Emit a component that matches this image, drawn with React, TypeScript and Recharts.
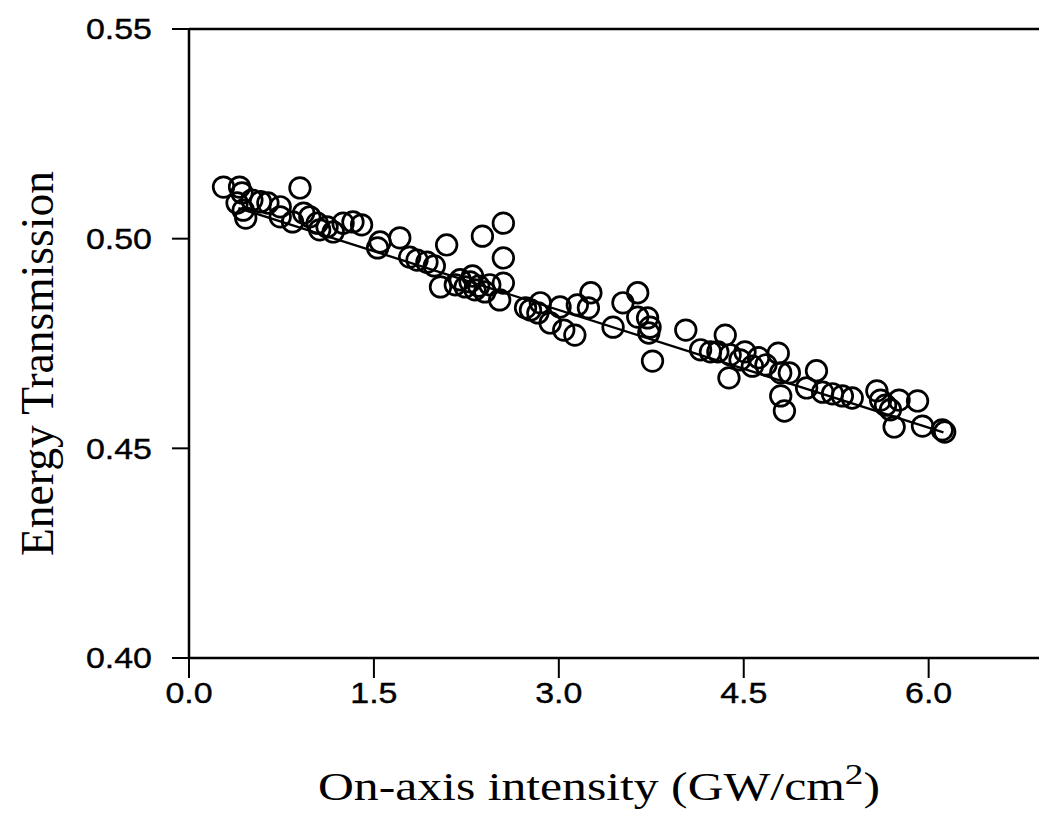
import React from "react";
import {
  ComposedChart,
  Scatter,
  XAxis,
  YAxis,
  ReferenceLine,
} from "recharts";

const intensity = [
  0.28, 0.41, 0.43, 0.39, 0.44, 0.46, 0.51, 0.58, 0.64, 0.74, 0.74, 0.9, 0.84, 0.93, 0.98,
  1.04, 1.06, 1.12, 1.17, 1.25, 1.33, 1.4, 1.53, 1.55, 1.71, 1.79, 1.85, 1.93, 1.99, 2.09,
  2.04, 2.16, 2.2, 2.24, 2.28, 2.3, 2.32, 2.35, 2.38, 2.4, 2.44, 2.55, 2.55, 2.55, 2.52,
  2.73, 2.77, 2.83, 2.85, 2.93, 3.01, 3.04, 3.13, 3.15, 3.24, 3.26, 3.44, 3.52, 3.64, 3.64,
  3.72, 3.74, 3.73, 3.76, 4.03, 4.15, 4.23, 4.29, 4.35, 4.38, 4.39, 4.47, 4.51, 4.57, 4.62,
  4.68, 4.78, 4.8, 4.87, 4.8, 4.83, 5.01, 5.09, 5.14, 5.22, 5.3, 5.38, 5.58, 5.61, 5.65,
  5.69, 5.76, 5.72, 5.91, 5.95, 6.11, 6.13,
];

const transmission = [
  0.5123, 0.5123, 0.5109, 0.5085, 0.5068, 0.5049, 0.5092, 0.5088, 0.5085, 0.5076, 0.5052,
  0.5121, 0.504, 0.5061, 0.5052, 0.5037, 0.5021, 0.5028, 0.5016, 0.5037, 0.504, 0.5033,
  0.4978, 0.4992, 0.5002, 0.4956, 0.4949, 0.4944, 0.4935, 0.4985, 0.4885, 0.489, 0.4902,
  0.4885, 0.4897, 0.4911, 0.4878, 0.4887, 0.5006, 0.4873, 0.489, 0.5037, 0.4954, 0.4894,
  0.4854, 0.4835, 0.483, 0.4823, 0.4847, 0.4799, 0.4837, 0.4782, 0.477, 0.4842, 0.4835,
  0.4871, 0.4789, 0.4847, 0.4871, 0.4813, 0.4811, 0.4789, 0.4775, 0.4708, 0.4782, 0.4735,
  0.473, 0.473, 0.477, 0.4668, 0.4723, 0.4711, 0.473, 0.4696, 0.4716, 0.4699, 0.4727,
  0.468, 0.468, 0.4625, 0.4589, 0.4644, 0.4685, 0.4634, 0.463, 0.4625, 0.462, 0.4637,
  0.4615, 0.4603, 0.4592, 0.4615, 0.4551, 0.4613, 0.4553, 0.4544, 0.4539,
];

// straight-line fit through the data
const fitX = [0.4, 6.12];
const fitY = [0.5073, 0.4538];

const xTicks = [0, 1.5, 3.0, 4.5, 6.0];
const yTicks = [0.4, 0.45, 0.5, 0.55];

const points = intensity.map((x, i) => ({ x, y: transmission[i] }));

const sans = "'Liberation Sans', Arial, sans-serif";
const serif = "'Liberation Serif', 'Times New Roman', serif";

// the scan is a bit stretched sideways, so widen the labels
const labelWidth = (s: string, size: number) => {
  let w = 0;
  for (const c of s) w += c === "." ? 0.278 : 0.556;
  return w * size * 1.17;
};

// eslint-disable-next-line @typescript-eslint/no-explicit-any
const XTick = ({ x, y, payload }: any) => {
  const s = payload.value.toFixed(1);
  return (
    <text
      x={x}
      y={y}
      dy="0.72em"
      textAnchor="middle"
      fontFamily={sans}
      fontSize={29}
      fill="#000"
      stroke="#000"
      strokeWidth={0.4}
      textLength={labelWidth(s, 29)}
      lengthAdjust="spacingAndGlyphs"
    >
      {s}
    </text>
  );
};

// eslint-disable-next-line @typescript-eslint/no-explicit-any
const YTick = ({ x, y, payload }: any) => {
  const s = payload.value.toFixed(2);
  return (
    <text
      x={x}
      y={y}
      dy="0.36em"
      textAnchor="end"
      fontFamily={sans}
      fontSize={29}
      fill="#000"
      stroke="#000"
      strokeWidth={0.4}
      textLength={labelWidth(s, 29)}
      lengthAdjust="spacingAndGlyphs"
    >
      {s}
    </text>
  );
};

// eslint-disable-next-line @typescript-eslint/no-explicit-any
const Ring = ({ cx, cy }: any) => (
  <circle cx={cx} cy={cy} r={10.3} fill="none" stroke="#000" strokeWidth={2.7} />
);

// eslint-disable-next-line @typescript-eslint/no-explicit-any
const XTitle = ({ viewBox }: any) => {
  const cx = viewBox.x + viewBox.width / 2 - 19;
  return (
    <text
      x={cx}
      y={792}
      textAnchor="middle"
      fontFamily={serif}
      fontSize={40}
      fill="#000"
      textLength={562}
      lengthAdjust="spacingAndGlyphs"
    >
      On-axis intensity (GW/cm
      <tspan fontSize={30} dy={-16}>2</tspan>
      <tspan dy={16}>)</tspan>
    </text>
  );
};

// eslint-disable-next-line @typescript-eslint/no-explicit-any
const YTitle = ({ viewBox }: any) => {
  const cy = viewBox.y + viewBox.height / 2 + 20;
  return (
    <text
      x={30}
      y={cy}
      transform={`rotate(-90, 30, ${cy})`}
      dy="0.33em"
      textAnchor="middle"
      fontFamily={serif}
      fontSize={46}
      fill="#000"
      textLength={385}
      lengthAdjust="spacingAndGlyphs"
    >
      Energy Transmission
    </text>
  );
};

export default function App() {
  return (
    <div style={{ width: 1039, height: 815, background: "#fff" }}>
      <ComposedChart
        width={1039}
        height={815}
        margin={{ top: 21, right: 0, left: 0, bottom: 45 }}
      >
        <XAxis
          type="number"
          dataKey="x"
          domain={[0, 6.96]}
          ticks={xTicks}
          allowDataOverflow
          height={120}
          axisLine={{ stroke: "#000", strokeWidth: 2.5 }}
          tickLine={{ stroke: "#000", strokeWidth: 2 }}
          tickSize={20}
          tickMargin={4}
          tick={<XTick />}
          label={<XTitle />}
        />
        <YAxis
          type="number"
          dataKey="y"
          domain={[0.4, 0.55]}
          ticks={yTicks}
          allowDataOverflow
          width={181}
          axisLine={{ stroke: "#000", strokeWidth: 2.5 }}
          tickLine={{ stroke: "#000", strokeWidth: 2 }}
          tickSize={17}
          tickMargin={20}
          tick={<YTick />}
          label={<YTitle />}
        />
        <ReferenceLine y={0.55} stroke="#000" strokeWidth={2.5} />
        <ReferenceLine
          segment={[
            { x: fitX[0], y: fitY[0] },
            { x: fitX[1], y: fitY[1] },
          ]}
          stroke="#000"
          strokeWidth={2.3}
        />
        <Scatter data={points} shape={<Ring />} isAnimationActive={false} />
      </ComposedChart>
    </div>
  );
}
